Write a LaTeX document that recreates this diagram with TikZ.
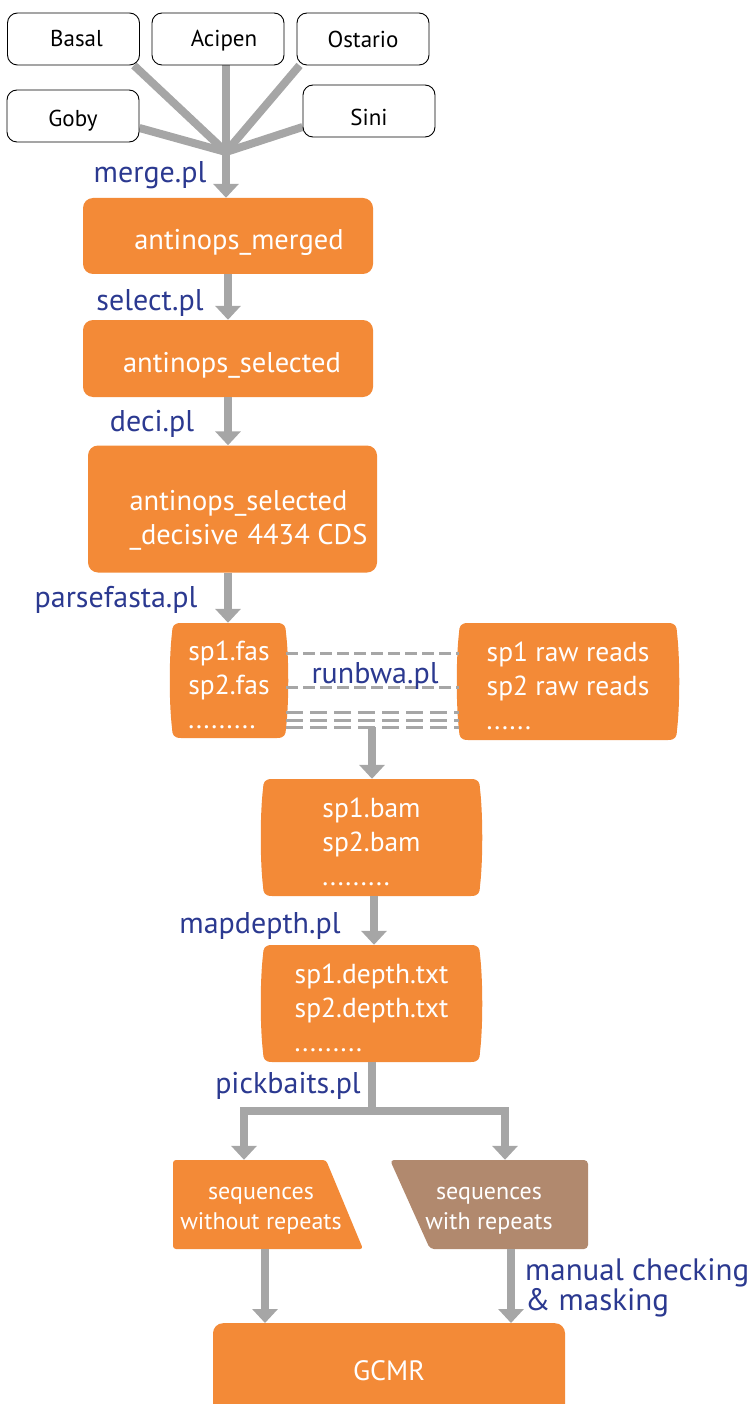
\documentclass[tikz,border=0pt]{standalone}
\usepackage{fontspec}
\setmainfont{PT Sans}
\usetikzlibrary{arrows.meta,backgrounds}

\definecolor{flow}{RGB}{243,138,55}
\definecolor{brownfill}{RGB}{177,137,110}
\definecolor{script}{RGB}{43,57,144}
\definecolor{pipe}{RGB}{166,166,166}

% lower a line of text without changing the space it takes up
\newcommand{\down}[2]{\raisebox{-#1}[\height][\depth]{#2}}

% barrel-shaped file box: colour, x1, y1, x2, y2
\newcommand{\barrel}[5]{%
  \fill[#1] ({#2+9},#3) -- ({#4-9},#3)
    .. controls ({#4-2},#3) and (#4,{#3+3}) .. (#4,{#3+10})
    .. controls ({#4+3},{#3+35}) and ({#4+3},{#5-35}) .. (#4,{#5-10})
    .. controls (#4,{#5-3}) and ({#4-2},#5) .. ({#4-9},#5)
    -- ({#2+9},#5)
    .. controls ({#2+2},#5) and (#2,{#5-3}) .. (#2,{#5-10})
    .. controls ({#2-3},{#5-35}) and ({#2-3},{#3+35}) .. (#2,{#3+10})
    .. controls (#2,{#3+3}) and ({#2+2},#3) .. cycle;}

\tikzset{
  src/.style={draw=black, line width=0.9pt, fill=white, rounded corners=10pt,
    minimum width=132pt, minimum height=52pt, inner sep=0pt,
    font=\fontsize{23}{26}\selectfont},
  stepbox/.style={fill=flow, rounded corners=10pt, text=white, inner sep=0pt,
    align=left, font=\fontsize{28.5}{34}\selectfont},
  filebox/.style={draw=none, text=white, inner sep=0pt, align=left,
    font=\fontsize{27.5}{34}\selectfont},
  seqbox/.style={draw=none, text=white, inner sep=0pt, align=center,
    font=\fontsize{24}{30}\selectfont},
  tool/.style={text=script, inner sep=0pt, align=left,
    font=\fontsize{30}{26}\selectfont},
  pipeline/.style={draw=pipe, line width=8pt},
  flowarrow/.style={pipeline, -{Triangle[width=25pt,length=14pt]}},
  dashlink/.style={draw=pipe, line width=3pt, dash pattern=on 12pt off 5pt},
  densedash/.style={draw=pipe, line width=3pt, dash pattern=on 17pt off 7pt},
}

\begin{document}
\begin{tikzpicture}[x=1pt,y=-1pt]
\useasboundingbox (0,0) rectangle (754,1404);

% source data sets
\node[src] (basal)   at (73.5,39) {\hspace*{6pt}Basal};
\node[src] (acipen)  at (218,39)  {\hspace*{12pt}\down{2pt}{Acipen}};
\node[src] (ostario) at (363,39)  {Ostario};
\node[src] (goby)    at (73,116)  {\down{5pt}{Goby}};
\node[src] (sini)    at (369,111) {\down{6pt}{Sini}};
\coordinate (hub) at (226,152);

% processing steps
\node[stepbox, minimum width=290pt, minimum height=76pt] (merged) at (228,236)
  {\hspace*{22pt}\down{6pt}{antinops\_merged}};
\node[stepbox, minimum width=290pt, minimum height=77pt] (selected) at (228,358.5)
  {\hspace*{8pt}\down{7pt}{antinops\_selected}};
\node[stepbox, minimum width=289pt, minimum height=127pt] (decisive) at (232.5,509)
  {\hspace*{32pt}\down{11pt}{antinops\_selected}\\
   \hspace*{32pt}\down{11pt}{\_decisive\hspace{9pt}4434 CDS}};

% per-species files
\node[filebox, minimum width=114pt, minimum height=115pt] (fas) at (229,680.5)
  {\down{4pt}{sp1.fas}\\\down{4pt}{sp2.fas}\\\down{4pt}{.........}};
\node[filebox, minimum width=218pt, minimum height=117pt] (raw) at (568,681.5)
  {\down{4pt}{sp1 raw reads}\\\down{4pt}{sp2 raw reads}\\\down{4pt}{......}};
\node[filebox, minimum width=217pt, minimum height=117pt] (bam) at (371.5,837.5)
  {\down{4pt}{sp1.bam}\\\down{4pt}{sp2.bam}\\\down{4pt}{.........}};
\node[filebox, minimum width=217pt, minimum height=117pt] (depth) at (371.5,1003.5)
  {\down{4pt}{sp1.depth.txt}\\\down{4pt}{sp2.depth.txt}\\\down{4pt}{.........}};

% bait sets
\node[seqbox, minimum width=176pt, minimum height=89pt] (norep) at (261,1204.5)
  {\down{6pt}{sequences}\\\down{6pt}{without repeats}};
\node[seqbox, minimum width=198pt, minimum height=89pt] (rep) at (489,1204.5)
  {\down{6pt}{sequences}\\\down{6pt}{with repeats}};
\node[stepbox, minimum width=352pt, minimum height=100pt, anchor=north,
  font=\fontsize{28}{30}\selectfont] (gcmr) at (389,1323) {\down{-3pt}{GCMR}};

% shapes behind the file and bait nodes
\begin{scope}[on background layer]
  \barrel{flow}{172}{623}{286}{738}
  \barrel{flow}{459}{623}{677}{740}
  \barrel{flow}{263}{779}{480}{896}
  \barrel{flow}{263}{945}{480}{1062}
  \fill[flow, rounded corners=3pt] (173,1160) -- (326,1160) -- (363,1249) -- (173,1249) -- cycle;
  \fill[brownfill, rounded corners=4pt] (390,1160) -- (588,1160) -- (588,1249) -- (430,1249) -- cycle;
  % inputs converging on merge.pl
  \draw[pipeline] ([xshift=-6pt]basal.south east) -- (hub);
  \draw[pipeline] ([xshift=8pt]acipen.south) -- (hub);
  \draw[pipeline] ([xshift=3pt]ostario.south west) -- (hub);
  \draw[pipeline] ([yshift=-12pt]goby.east) -- (hub);
  \draw[pipeline] ([yshift=-16pt]sini.west) -- (hub);
\end{scope}

% main flow
\draw[flowarrow] (hub) -- (hub |- merged.north);
\draw[flowarrow] (merged.south) -- (selected.north);
\draw[flowarrow] (selected.south) -- (decisive.north -| selected.south);
\draw[flowarrow] (decisive.south -| selected.south) -- (fas.north -| selected.south);

% read mapping links
\draw[dashlink] (fas.east |- 0,653) -- (raw.west |- 0,653);
\draw[dashlink] (fas.east |- 0,687) -- (raw.west |- 0,687);
\draw[densedash] (fas.east |- 0,712) -- (raw.west |- 0,712);
\draw[densedash] (fas.east |- 0,720) -- (raw.west |- 0,720);
\draw[densedash] (fas.east |- 0,727) -- (raw.west |- 0,727);
\coordinate (mapped) at (372,727);
\draw[flowarrow] (mapped) -- (bam.north -| mapped);
\draw[flowarrow] ([xshift=2.5pt]bam.south) -- ([xshift=2.5pt]depth.north);

% split into two bait sets
\coordinate (split) at (372,1111);
\draw[pipeline] (depth.south -| split) -- (split);
\draw[flowarrow] (split) -| ([xshift=-17pt]norep.north);
\draw[flowarrow] (split) -| ([xshift=16pt]rep.north);
\draw[flowarrow] ([xshift=4pt]norep.south) -- (gcmr.north -| 265,0);
\draw[flowarrow] ([xshift=22pt]rep.south) -- (gcmr.north -| 511,0);

% script labels
\node[tool] (lmerge)  at (150,175)  {merge.pl};
\node[tool] (lselect) at (150,303)  {select.pl};
\node[tool] (ldeci)   at (152,424)  {deci.pl};
\node[tool] (lparse)  at (116,600)  {parsefasta.pl};
\node[tool] (lbwa)    at (375,676)  {runbwa.pl};
\node[tool] (lmap)    at (260,926)  {mapdepth.pl};
\node[tool] (lpick)   at (288,1086) {pickbaits.pl};
\node[tool, anchor=west, font=\fontsize{31}{26}\selectfont] (lmanual) at (525,1288)
  {manual checking\\\& masking};
\end{tikzpicture}
\end{document}
